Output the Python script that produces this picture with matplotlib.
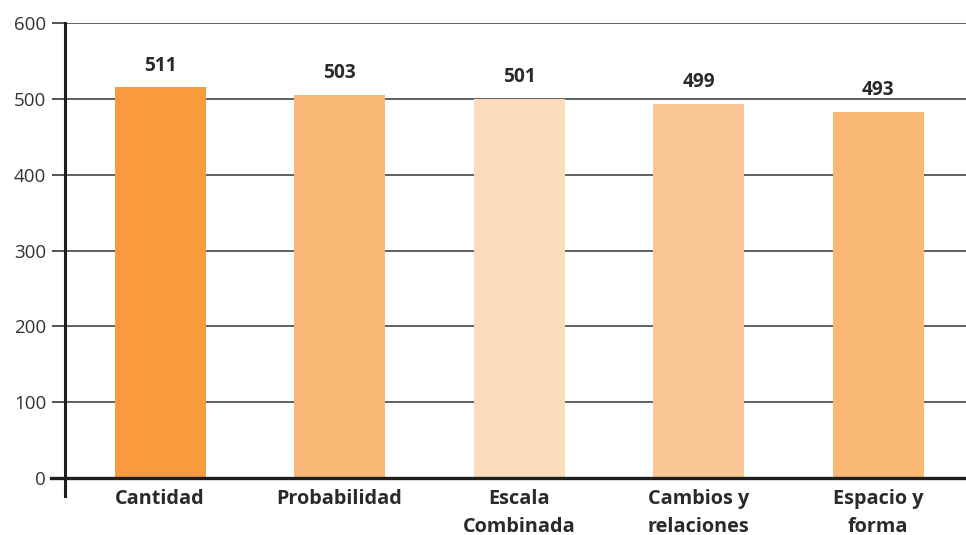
import matplotlib
matplotlib.use("Agg")
import matplotlib.pyplot as plt
from matplotlib.lines import Line2D

categories = ["Cantidad", "Probabilidad", "Escala\nCombinada", "Cambios y\nrelaciones", "Espacio y\nforma"]
bar_heights = [515, 505, 500, 493, 483]
value_labels = ["511", "503", "501", "499", "493"]
bar_colors = ["#F79B3E", "#FAB877", "#FDDCBC", "#FBC794", "#FAB877"]
y_ticks = [0, 100, 200, 300, 400, 500, 600]

plt.rcParams['font.family'] = ['Open Sans', 'DejaVu Sans']
text_color = "#2a2a2a"

fig = plt.figure(figsize=(9.66, 5.35), dpi=100)
W, H = 966, 535
left, right, top, bottom = 65, 966, 22.7, 478.3
ax = fig.add_axes([left / W, (H - bottom) / H, (right - left) / W, (bottom - top) / H])

x = list(range(len(categories)))
ax.bar(x, bar_heights, width=0.507, color=bar_colors, zorder=3)

ax.set_xlim(-0.53, 4.49)
ax.set_ylim(0, 600)

for v in y_ticks[1:]:
    ax.axhline(v, color="#555555", lw=1.3, zorder=1)

for sp in ax.spines.values():
    sp.set_visible(False)

# y axis line extending below zero
ax.add_line(Line2D([0, 0], [-23.5, 600], transform=ax.get_yaxis_transform(),
                   color="#1e1e1e", lw=2.2, clip_on=False, zorder=4))
# x axis line extending left of y axis
ax.add_line(Line2D([-14 / 901, 1], [0, 0], transform=ax.transAxes,
                   color="#1e1e1e", lw=2.4, clip_on=False, zorder=4))

ax.set_yticks(y_ticks)
ax.set_yticklabels([str(v) for v in y_ticks])
ax.tick_params(axis='y', length=9.5, width=1.3, color="#444444", pad=4,
               labelsize=13.5, labelcolor="#333333")

ax.set_xticks(x)
ax.set_xticklabels(categories, fontweight='bold', fontsize=14.3, color=text_color,
                   linespacing=1.5)
ax.tick_params(axis='x', length=0, pad=8)

for xi, h, lab in zip(x, bar_heights, value_labels):
    ax.annotate(lab, (xi, h), xytext=(0, 12), textcoords='offset points',
                ha='center', va='baseline', fontsize=13.8, fontweight='bold',
                color=text_color, zorder=5)

fig.savefig("out.png", dpi=100)
